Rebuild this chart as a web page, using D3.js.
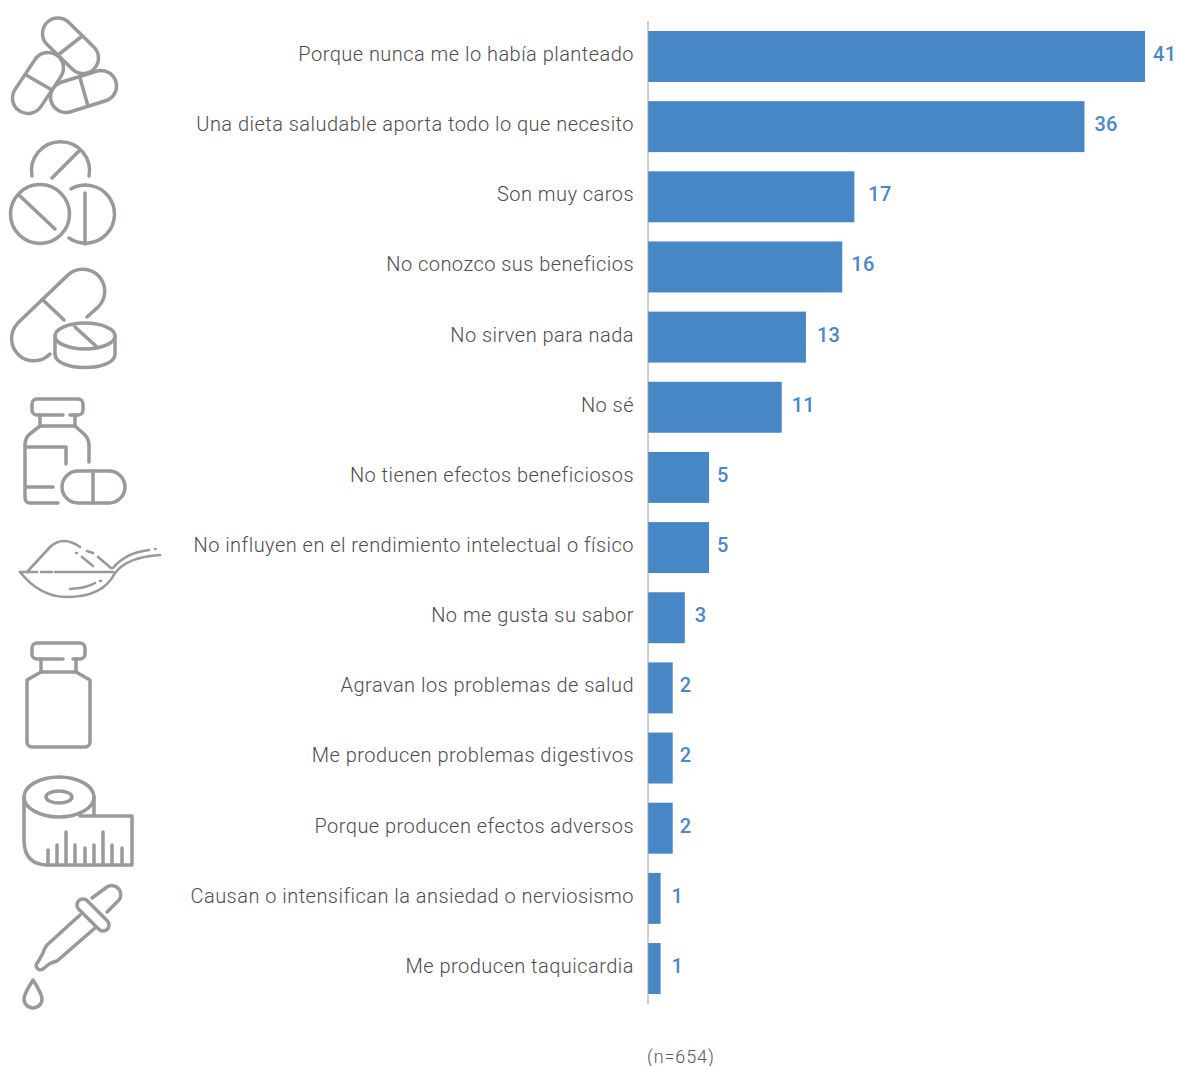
<!DOCTYPE html>
<html lang="es">
<head>
<meta charset="utf-8">
<style>
  html, body { margin: 0; padding: 0; background: #fff; }
  svg { display: block; }
  .reason { font-family: Roboto, sans-serif; font-weight: 300; font-size: 20px; letter-spacing: 0.47px; fill: #4d4d4f; }
  .value { font-family: Roboto, sans-serif; font-weight: 500; font-size: 20px; letter-spacing: 0.3px; fill: #4a88c7; }
  .note { font-family: Roboto, sans-serif; font-weight: 300; font-size: 18px; letter-spacing: 0.9px; fill: #58595b; }
  .icon path, .icon ellipse, .icon circle { fill: none; stroke: #97999c; stroke-width: 3.5; stroke-linecap: round; stroke-linejoin: round; }
  .icon .solid { fill: #fff; }
  .icon path.fine { stroke-width: 2.6; }
</style>
</head>
<body>
<svg id="chart" width="1177" height="1066"></svg>
<script src="https://cdn.jsdelivr.net/npm/d3@7"></script>
<script>
// Reasons for not taking supplements, percentage of respondents
const reasons = [
  "Porque nunca me lo había planteado",
  "Una dieta saludable aporta todo lo que necesito",
  "Son muy caros",
  "No conozco sus beneficios",
  "No sirven para nada",
  "No sé",
  "No tienen efectos beneficiosos",
  "No influyen en el rendimiento intelectual o físico",
  "No me gusta su sabor",
  "Agravan los problemas de salud",
  "Me producen problemas digestivos",
  "Porque producen efectos adversos",
  "Causan o intensifican la ansiedad o nerviosismo",
  "Me producen taquicardia"
];
const shares = [41, 36, 17, 16, 13, 11, 5, 5, 3, 2, 2, 2, 1, 1];
const sampleNote = "(n=654)";

const svg = d3.select("#chart");

const x = d3.scaleLinear().domain([0, 41]).range([648.5, 1145]);
const y = d3.scaleBand().domain(reasons).range([31, 994]).paddingInner(0.2735).paddingOuter(0);

const rows = reasons.map((reason, i) => ({ reason, share: shares[i], index: i }));

svg.append("g").selectAll("rect").data(rows).join("rect")
  .attr("x", x(0) - 0.5)
  .attr("y", d => y(d.reason))
  .attr("width", d => x(d.share) - x(0) + 0.5)
  .attr("height", y.bandwidth())
  .attr("fill", "#4887c6");

svg.append("line")
  .attr("x1", 648).attr("x2", 648)
  .attr("y1", 21).attr("y2", 1004)
  .attr("stroke", "#9a9a9c").attr("stroke-width", 1);

svg.append("g").selectAll("text").data(rows).join("text")
  .attr("class", "reason")
  .attr("x", 634)
  .attr("y", d => y(d.reason) + y.bandwidth() / 2 + 4.4)
  .attr("text-anchor", "end")
  .text(d => d.reason);

// Hand-set spacing between each bar end and its number
const valueGaps = [8, 10, 14, 9, 11, 10, 8, 8, 10, 7, 7, 7, 11, 11];

svg.append("g").selectAll("text").data(rows).join("text")
  .attr("class", "value")
  .attr("x", d => x(d.share) + valueGaps[d.index])
  .attr("y", d => y(d.reason) + y.bandwidth() / 2 + 4.4)
  .text(d => d.share);

svg.append("text").attr("class", "note").attr("x", 647).attr("y", 1063).text(sampleNote);

// Decorative pictograms down the left margin
const icons = svg.append("g").attr("class", "icon");

function capsule(x1, y1, x2, y2, r) {
  const a = Math.atan2(y2 - y1, x2 - x1);
  const nx = -Math.sin(a) * r, ny = Math.cos(a) * r;
  const p = d3.path();
  p.moveTo(x1 + nx, y1 + ny);
  p.lineTo(x2 + nx, y2 + ny);
  p.arc(x2, y2, r, a + Math.PI / 2, a - Math.PI / 2, true);
  p.lineTo(x1 - nx, y1 - ny);
  p.arc(x1, y1, r, a - Math.PI / 2, a + Math.PI / 2, true);
  p.closePath();
  return p.toString();
}
const stroke = (d, cls) => icons.append("path").attr("d", d).attr("class", cls || null);

// three capsules
stroke(capsule(66, 97, 101, 86, 15.5), "solid");
stroke("M80 78L88 106");
stroke(capsule(58, 33.5, 83, 58, 15.5), "solid");
stroke("M58 55L81 37");
stroke(capsule(28, 98, 48, 68, 15.5), "solid");
stroke("M26 75L52 90");

// three round tablets
stroke("M32 176A29 29 0 1 1 89 176");
stroke("M52 178L80 150");
icons.append("circle").attr("cx", 40).attr("cy", 214).attr("r", 29.5);
stroke("M20 196L55 229");
stroke("M71 189A29 29 0 1 1 69 238");
stroke("M85 193V244");

// capsule and tablet
stroke("M87 317L98.2 306.9A22 22 0 0 0 67.8 275.1L17.8 323.1A22 22 0 0 0 50 354");
stroke("M43 300L64 320");
icons.append("ellipse").attr("cx", 85).attr("cy", 336).attr("rx", 30).attr("ry", 13);
stroke("M55 336V354C55 372 115 372 115 354V336");
stroke("M75 327L97 347");

// bottle with capsule
stroke("M37 399H78A5 5 0 0 1 83 404V410A5 5 0 0 1 78 415H70M37 415A5 5 0 0 1 32 410V404A5 5 0 0 1 37 399M37 415H63");
stroke("M40 415V426M75 415V426M40 426H75");
stroke("M40 426L31 433Q25 437 25 445V498A5 5 0 0 0 30 503H58");
stroke("M75 426L84 434Q89 439 89 445V462");
stroke("M26 447H66V464M26 487H53");
stroke(capsule(78, 487, 109, 487, 16));
stroke("M93 471V503");

// spoon with powder
stroke("M20 572H37M41 572H52M55 572H113", "fine");
stroke("M20 572Q40 597 67 597Q103 597 115 573Q127 557 160 555", "fine");
stroke("M113 568Q125 553 149 550M155 549H155.5", "fine");
stroke("M27 572L50 547Q63 535 80 547M87 551L93 553M98 557L111 568", "fine");
stroke("M76 553H77M82 557L93 566", "fine");
stroke("M70 589Q87 588 95 583M100 581H101", "fine");

// vial
stroke("M37 643H80A5 5 0 0 1 85 648V654A5 5 0 0 1 80 659H73M37 659A5 5 0 0 1 32 654V648A5 5 0 0 1 37 643M37 659H63");
stroke("M41 659V672H76V659");
stroke("M41 672L27 680V742A5 5 0 0 0 32 747H85A5 5 0 0 0 90 742V680L76 672");

// measuring tape
icons.append("ellipse").attr("cx", 59).attr("cy", 797).attr("rx", 35).attr("ry", 20);
icons.append("ellipse").attr("cx", 59).attr("cy", 797).attr("rx", 13).attr("ry", 6);
stroke("M24 797V840Q24 865 48 865H132V816H80M94 797V815");
[[48, 850], [57, 845], [66, 832], [75, 845], [85, 848], [94, 845], [103, 832], [112, 845], [122, 848]]
  .forEach(t => stroke(`M${t[0]} ${t[1]}V865`));

// dropper and drop
stroke("M92 898L107 887A9 9 0 0 1 119 900L107 912");
stroke(capsule(83, 905, 103, 925, 6), "solid");
stroke("M80 915L47 945Q44 949 43 953L38 962A3.5 3.5 0 0 0 43 969L49 964Q53 962 57 961L95 928");
stroke("M33 980Q24 994 24 999A9 9 0 0 0 42 999Q42 994 33 980Z");
</script>
</body>
</html>
